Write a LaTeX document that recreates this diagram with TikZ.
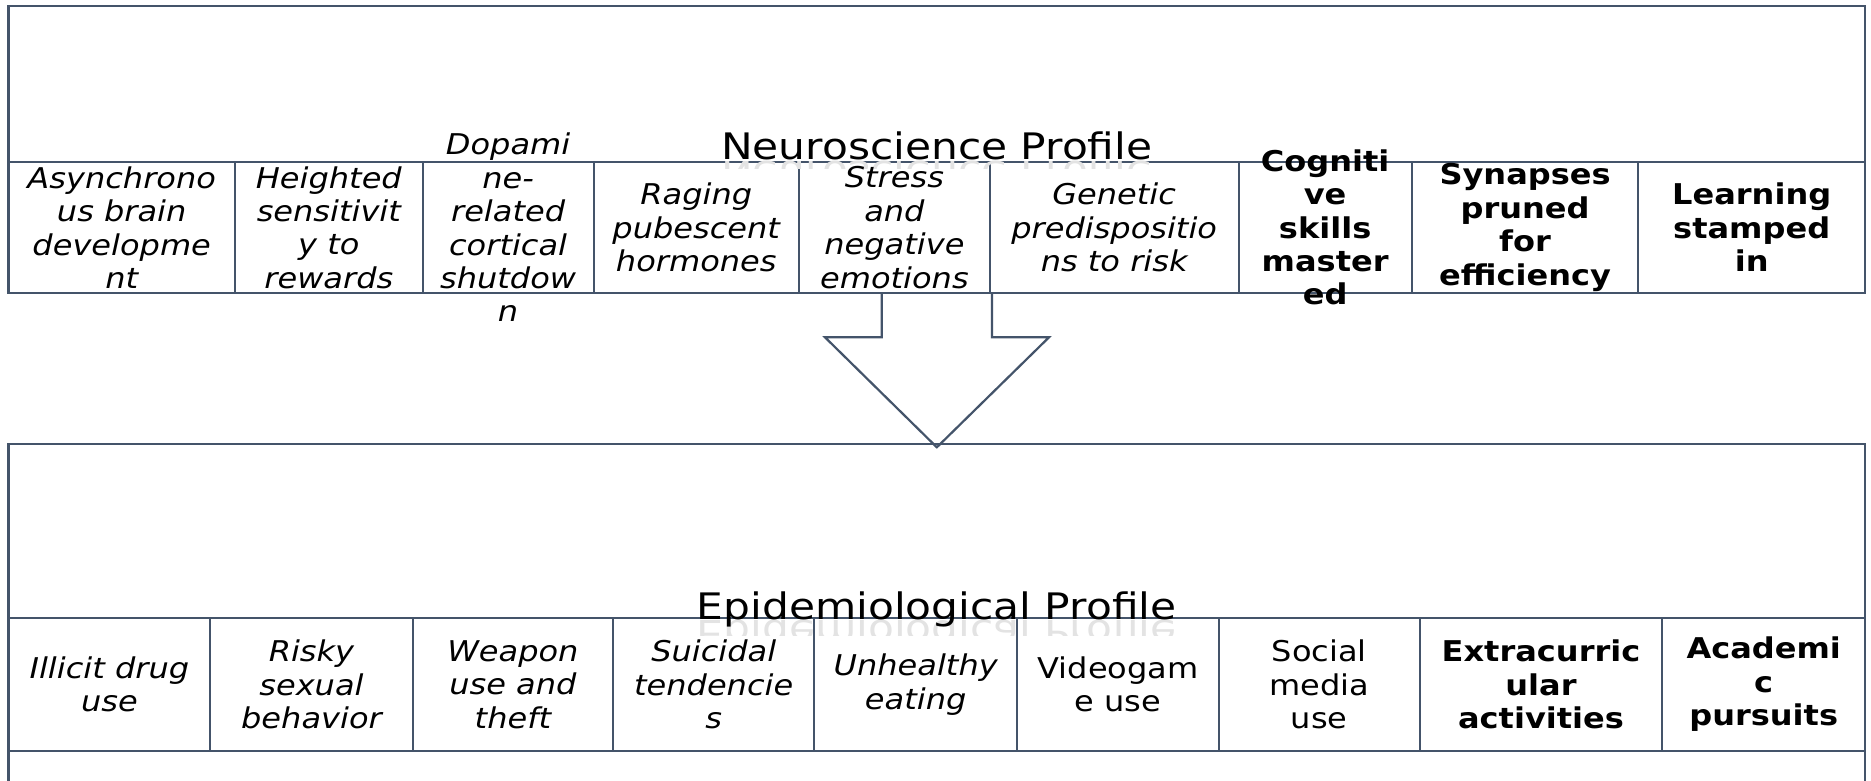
\documentclass[tikz,border=0pt]{standalone}
\usepackage{fontspec}
\setmainfont{DejaVu Sans}[FakeStretch=1.12]
\newfontfamily\titlefont{DejaVu Sans}[FakeStretch=1.16]
\definecolor{slate}{HTML}{44546A}
\tikzset{
  frame/.style={draw=slate, line width=2.2pt, rectangle, inner sep=0pt},
  cell/.style={draw=slate, line width=2pt, rectangle, inner sep=0pt, minimum height=131.6pt},
  ecell/.style={draw=slate, line width=2pt, rectangle, inner sep=0pt, minimum height=132.4pt},
  ct/.style={inner sep=0pt, align=center, text=black, font=\fontsize{28.6}{33.4}\selectfont\itshape},
  cb/.style={inner sep=0pt, align=center, text=black, font=\fontsize{28.6}{33.4}\selectfont\bfseries},
  cu/.style={inner sep=0pt, align=center, text=black, font=\fontsize{28.6}{33.4}\selectfont},
  title/.style={inner sep=0pt, anchor=base, text=black, font=\titlefont\fontsize{36.5}{44}\selectfont},
  refl/.style={inner sep=0pt, anchor=base, text=black!11, font=\titlefont\fontsize{36.5}{44}\selectfont},
  blockarrow/.style={draw=slate, line width=2.2pt, line join=miter}
}
\begin{document}
\begin{tikzpicture}[x=1pt,y=-1pt]
\clip (0,0) rectangle (1871,781);
\fill[white] (0,0) rectangle (1871,781);
% outer boxes
\node[frame, minimum width=1856.6pt, minimum height=287.3pt] (topbox) at (936.7,149.65) {};
\node[frame, minimum width=1856.6pt, minimum height=456pt] (botbox) at (936.7,672) {};
% top cells
\node[cell, minimum width=226.6pt] (n1) at (121.7,227.5) {};
\node[cell, minimum width=187.7pt] (n2) at (328.85,227.5) {};
\node[cell, minimum width=170.8pt] (n3) at (508.1,227.5) {};
\node[cell, minimum width=205.5pt] (n4) at (696.25,227.5) {};
\node[cell, minimum width=190.8pt] (n5) at (894.4,227.5) {};
\node[cell, minimum width=248.7pt] (n6) at (1114.15,227.5) {};
\node[cell, minimum width=173.3pt] (n7) at (1325.15,227.5) {};
\node[cell, minimum width=226.6pt] (n8) at (1525.1,227.5) {};
\node[cell, minimum width=226.6pt] (n9) at (1751.7,227.5) {};
% bottom cells
\node[ecell, minimum width=202pt] (e1) at (109.4,684.5) {};
\node[ecell, minimum width=202.1pt] (e2) at (311.45,684.5) {};
\node[ecell, minimum width=200.8pt] (e3) at (512.9,684.5) {};
\node[ecell, minimum width=200.8pt] (e4) at (713.7,684.5) {};
\node[ecell, minimum width=203.2pt] (e5) at (915.7,684.5) {};
\node[ecell, minimum width=201.5pt] (e6) at (1118.05,684.5) {};
\node[ecell, minimum width=200.8pt] (e7) at (1319.2,684.5) {};
\node[ecell, minimum width=242.8pt] (e8) at (1541,684.5) {};
\node[ecell, minimum width=202.6pt] (e9) at (1763.7,684.5) {};
% reflections of titles (faint, only the part near the baseline)
\begin{scope}
  \clip (600,160.5) rectangle (1280,168);
  \node[refl] (t1r) at (936.7,161) {\scalebox{1}[-1]{Neuroscience Profile}};
\end{scope}
\begin{scope}
  \clip (600,620) rectangle (1280,635);
  \node[refl] (t2r) at (936.7,620.5) {\scalebox{1}[-1]{Epidemiological Profile}};
\end{scope}
% block arrow
\coordinate (arr) at (936.85,293.3);
\draw[blockarrow] ([shift={(-55.15,0)}]arr) -- ([shift={(-55.15,44)}]arr) -- ([shift={(-111.85,44)}]arr)
  -- ([shift={(0,154)}]arr) -- ([shift={(112.15,44)}]arr) -- ([shift={(55.15,44)}]arr) -- ([shift={(55.15,0)}]arr);
% titles
\node[title] (t1) at (936.7,159.5) {Neuroscience Profile};
\node[title] (t2) at (936.7,619) {Epidemiological Profile};
% top texts
\node[ct] at (n1) {Asynchrono\\us brain\\developme\\nt};
\node[ct] at (n2) {Heighted\\sensitivit\\y to\\rewards};
\node[ct] at (n3) {Dopami\\ne-\\related\\cortical\\shutdow\\n};
\node[ct] at (n4) {Raging\\pubescent\\hormones};
\node[ct] at (n5) {Stress\\and\\negative\\emotions};
\node[ct] at (n6) {Genetic\\predispositio\\ns to risk};
\node[cb] at (n7) {Cogniti\\ve\\skills\\master\\ed};
\node[cb] at (n8) {Synapses\\pruned\\for\\efficiency};
\node[cb] at (n9) {Learning\\stamped\\in};
% bottom texts
\node[ct] at (e1) {Illicit drug\\use};
\node[ct] at (e2) {Risky\\sexual\\behavior};
\node[ct] at (e3) {Weapon\\use and\\theft};
\node[ct] at (e4) {Suicidal\\tendencie\\s};
\node[ct] at (e5) {Unhealthy\\eating};
\node[cu] at (e6) {Videogam\\e use};
\node[cu] at (e7) {Social\\media\\use};
\node[cb] at (e8) {Extracurric\\ular\\activities};
\node[cb] at (e9) {Academi\\c\\pursuits};
\end{tikzpicture}
\end{document}
